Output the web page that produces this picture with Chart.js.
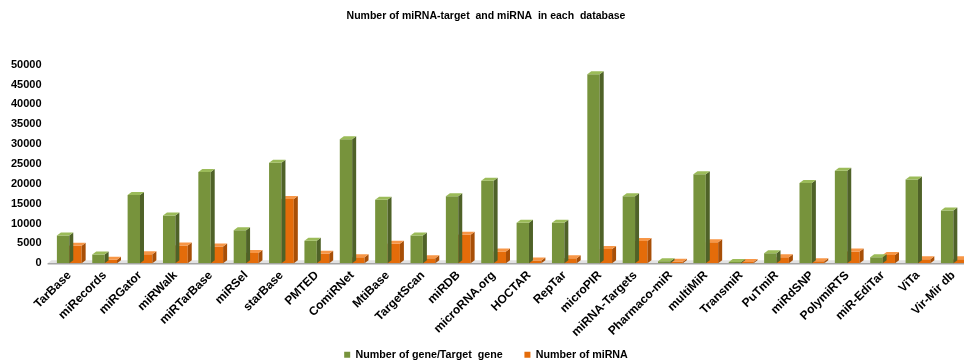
<!DOCTYPE html>
<html>
<head>
<meta charset="utf-8">
<script src="https://cdn.jsdelivr.net/npm/chart.js@4.4.1/dist/chart.umd.min.js"></script>
<style>
    html, body { margin: 0; padding: 0; background: #fff; overflow: hidden; }
    #wrap { width: 975px; height: 370px; }
</style>
</head>
<body>
<div id="wrap"><canvas id="dbChart"></canvas></div>
<script>
const databases = ['TarBase', 'miRecords', 'miRGator', 'miRWalk', 'miRTarBase', 'miRSel', 'starBase', 'PMTED',
    'ComiRNet', 'MtiBase', 'TargetScan', 'miRDB', 'microRNA.org', 'HOCTAR', 'RepTar', 'microPIR',
    'miRNA-Targets', 'Pharmaco-miR', 'multiMiR', 'TransmiR', 'PuTmiR', 'miRdSNP', 'PolymiRTS',
    'miR-EdiTar', 'ViTa', 'Vir-Mir db'];

const targetGenes = [7000, 2200, 17200, 12000, 23000, 8300, 25300, 5700,
    31200, 16000, 7000, 16900, 20800, 10200, 10200, 47600,
    16900, 500, 22400, 300, 2500, 20200, 23300,
    1500, 21100, 13300];

const mirnaCounts = [4400, 900, 2300, 4500, 4200, 2600, 16200, 2400,
    1500, 4900, 1300, 7200, 3000, 700, 1300, 3600,
    5600, 400, 5300, 300, 1500, 500, 3000,
    2100, 1000, 1000];

const yTicks = [0, 5000, 10000, 15000, 20000, 25000, 30000, 35000, 40000, 45000, 50000];

const seriesNames = ['Number of gene/Target  gene', 'Number of miRNA'];

// front / side / top shades for the fake 3D bars
const shades = [
    { front: '#77933C', side: '#4F6228', top: '#9BBB59' },
    { front: '#E46C0A', side: '#A84F07', top: '#F79646' }
];
const DX = 4, DY = 3;

const floorPlugin = {
    id: 'floor',
    beforeDatasetsDraw(chart) {
        const { ctx, chartArea } = chart;
        const y0 = chart.scales.y.getPixelForValue(0);
        ctx.save();
        ctx.fillStyle = '#E3E3E3';
        ctx.beginPath();
        ctx.moveTo(chartArea.left - 4, y0);
        ctx.lineTo(chartArea.right + 20, y0);
        ctx.lineTo(chartArea.right + 20 + DX, y0 - DY);
        ctx.lineTo(chartArea.left - 4 + DX, y0 - DY);
        ctx.closePath();
        ctx.fill();
        ctx.strokeStyle = '#A6A6A6';
        ctx.lineWidth = 1.5;
        ctx.beginPath();
        ctx.moveTo(chartArea.left - 4, y0 + 0.5);
        ctx.lineTo(chartArea.right + 20, y0 + 0.5);
        ctx.stroke();
        ctx.restore();
    }
};

const bars3dPlugin = {
    id: 'bars3d',
    afterDatasetDraw(chart, args) {
        const { ctx } = chart;
        const s = shades[args.index];
        ctx.save();
        args.meta.data.forEach(bar => {
            const p = bar.getProps(['x', 'y', 'base', 'width'], true);
            const l = p.x - p.width / 2, r = p.x + p.width / 2;
            // side face
            ctx.fillStyle = s.side;
            ctx.beginPath();
            ctx.moveTo(r, p.base);
            ctx.lineTo(r, p.y);
            ctx.lineTo(r + DX, p.y - DY);
            ctx.lineTo(r + DX, p.base - DY);
            ctx.closePath();
            ctx.fill();
            // top face
            ctx.fillStyle = s.top;
            ctx.beginPath();
            ctx.moveTo(l, p.y);
            ctx.lineTo(r, p.y);
            ctx.lineTo(r + DX, p.y - DY);
            ctx.lineTo(l + DX, p.y - DY);
            ctx.closePath();
            ctx.fill();
        });
        ctx.restore();
    }
};

const ctx = document.getElementById('dbChart').getContext('2d');
const chart = new Chart(ctx, {
    type: 'bar',
    data: {
        labels: databases,
        datasets: [
            {
                label: seriesNames[0],
                data: targetGenes,
                backgroundColor: shades[0].front,
                borderWidth: 0,
                barPercentage: 1,
                categoryPercentage: 0.7
            },
            {
                label: seriesNames[1],
                data: mirnaCounts,
                backgroundColor: shades[1].front,
                borderWidth: 0,
                barPercentage: 1,
                categoryPercentage: 0.7
            }
        ]
    },
    options: {
        responsive: true,
        maintainAspectRatio: false,
        animation: false,
        layout: { padding: { left: 1, right: 4, top: 0, bottom: 0 } },
        scales: {
            x: {
                grid: { display: false, drawTicks: false },
                border: { display: false },
                ticks: {
                    color: '#000',
                    font: { family: 'Liberation Sans, Arial', size: 12, weight: 'bold' },
                    minRotation: 45,
                    maxRotation: 45,
                    autoSkip: false,
                    padding: 5
                },
                // labels may hang past the plot edge; keep the plot width fixed
                afterFit(scale) {
                    scale.paddingLeft = 0;
                    scale.paddingRight = 0;
                    scale.height = 82;
                }
            },
            y: {
                min: 0,
                max: 50000,
                afterBuildTicks(axis) {
                    axis.ticks = yTicks.map(v => ({ value: v }));
                },
                grid: { display: false, drawTicks: false },
                border: { display: false },
                ticks: {
                    color: '#000',
                    font: { family: 'Liberation Sans, Arial', size: 11, weight: 'bold' },
                    padding: 10,
                    callback: value => String(value)
                }
            }
        },
        plugins: {
            title: {
                display: true,
                text: 'Number of miRNA-target  and miRNA  in each  database',
                color: '#000',
                font: { family: 'Liberation Sans, Arial', size: 10.5, weight: 'bold' },
                padding: { top: 10, bottom: 42 }
            },
            legend: {
                position: 'bottom',
                labels: {
                    color: '#000',
                    boxWidth: 6,
                    boxHeight: 6,
                    padding: 4,
                    font: { family: 'Liberation Sans, Arial', size: 10.7, weight: 'bold' },
                    // wider gap between the two entries
                    generateLabels(chart) {
                        const items = Chart.defaults.plugins.legend.labels.generateLabels(chart);
                        items[0].text += '      ';
                        return items;
                    }
                }
            },
            tooltip: { enabled: false }
        }
    },
    plugins: [floorPlugin, bars3dPlugin]
});
</script>
</body>
</html>
